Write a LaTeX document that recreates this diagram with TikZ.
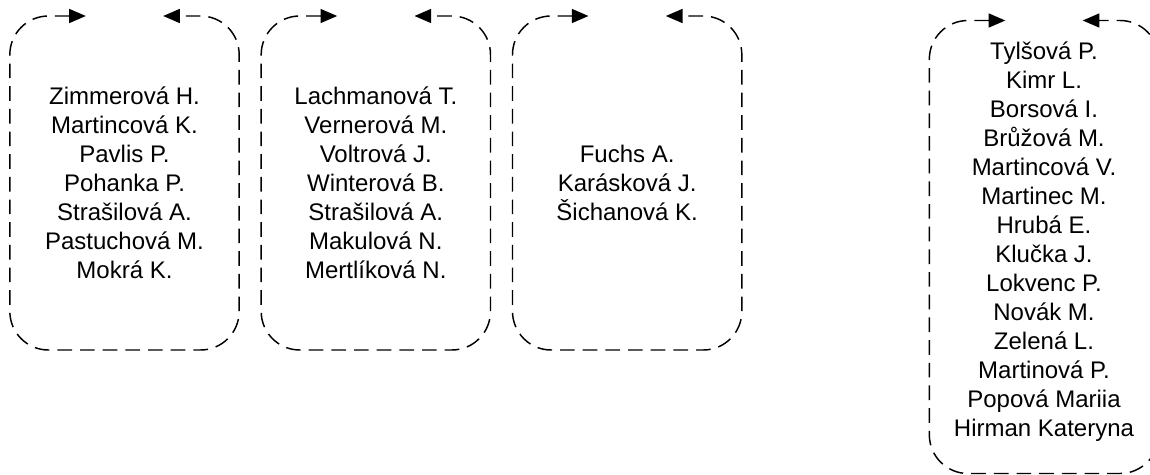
\documentclass[tikz,border=0pt]{standalone}
\usepackage{fontspec}
\setmainfont{Liberation Sans}
\usetikzlibrary{positioning,arrows.meta}

\tikzset{
  groupframe/.style={inner sep=0pt, outer sep=0pt, minimum width=172pt},
  namelist/.style={align=center, inner sep=0pt,
                   font=\fontsize{18}{21.75}\selectfont},
  cycleline/.style={line width=1.1pt, dash pattern=on 11pt off 6pt,
                    rounded corners=29pt,
                    {Triangle[length=12.5pt,width=10.5pt]}-{Triangle[length=12.5pt,width=10.5pt]}},
}

\begin{document}
\begin{tikzpicture}[x=0.75pt, y=-0.75pt]
  \useasboundingbox (0,0) rectangle (1150,475);

  % frames of the groups
  \node[groupframe, minimum height=250.5pt] (f1) at (124.5,183) {};
  \node[groupframe, minimum height=250.5pt, right=16.5pt of f1] (f2) {};
  \node[groupframe, minimum height=250.5pt, right=16.5pt of f2] (f3) {};
  \node[groupframe, minimum height=339.75pt] (f4) at (1044,247) {};

  % names
  \node[namelist] (g1) at (f1) {Zimmerová H.\\ Martincová K.\\ Pavlis P.\\
    Pohanka P.\\ Strašilová A.\\ Pastuchová M.\\ Mokrá K.};
  \node[namelist] (g2) at (f2) {Lachmanová T.\\ Vernerová M.\\ Voltrová J.\\
    Winterová B.\\ Strašilová A.\\ Makulová N.\\ Mertlíková N.};
  \node[namelist] (g3) at (f3) {Fuchs A.\\ Karásková J.\\ Šichanová K.};
  \node[namelist] (g4) at ([yshift=3.75pt]f4.center) {Tylšová P.\\ Kimr L.\\
    Borsová I.\\ Brůžová M.\\ Martincová V.\\ Martinec M.\\ Hrubá E.\\
    Klučka J.\\ Lokvenc P.\\ Novák M.\\ Zelená L.\\ Martinová P.\\
    Popová Mariia\\ Hirman Kateryna};

  \foreach \f in {f1,f2,f3,f4}
    \draw[cycleline] ([xshift=-29pt]\f.north) -- (\f.north west)
      -- (\f.south west) -- (\f.south east) -- (\f.north east)
      -- ([xshift=29pt]\f.north);
\end{tikzpicture}
\end{document}
